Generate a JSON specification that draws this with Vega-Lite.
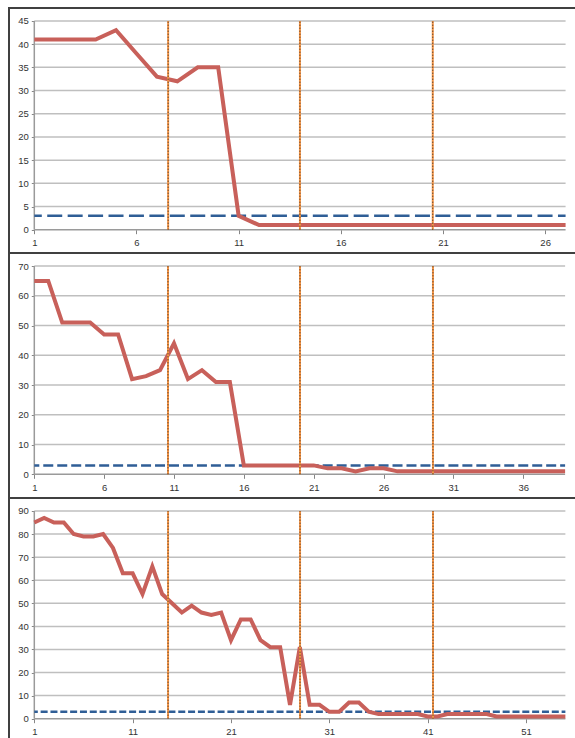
{
  "$schema": "https://vega.github.io/schema/vega-lite/v6.json",
  "padding": {"left": 8, "top": 7, "right": 0, "bottom": 0},
  "autosize": {"type": "pad"},
  "spacing": 0,
  "bounds": "flush",
  "background": "white",
  "config": {
    "view": {"stroke": "#404040", "strokeWidth": 2},
    "axis": {"labelFont": "Liberation Sans", "labelFontSize": 9.5, "labelColor": "#333333", "tickColor": "#868686", "tickWidth": 1, "domain": false, "grid": false}
  },
  "datasets": {
    "l1": [{"x":1,"y":41},{"x":2,"y":41},{"x":3,"y":41},{"x":4,"y":41},{"x":5,"y":43},{"x":6,"y":38},{"x":7,"y":33},{"x":8,"y":32},{"x":9,"y":35},{"x":10,"y":35},{"x":11,"y":3},{"x":12,"y":1},{"x":13,"y":1},{"x":14,"y":1},{"x":15,"y":1},{"x":16,"y":1},{"x":17,"y":1},{"x":18,"y":1},{"x":19,"y":1},{"x":20,"y":1},{"x":21,"y":1},{"x":22,"y":1},{"x":23,"y":1},{"x":24,"y":1},{"x":25,"y":1},{"x":26,"y":1},{"x":27,"y":1}],
    "l2": [{"x":1,"y":65},{"x":2,"y":65},{"x":3,"y":51},{"x":4,"y":51},{"x":5,"y":51},{"x":6,"y":47},{"x":7,"y":47},{"x":8,"y":32},{"x":9,"y":33},{"x":10,"y":35},{"x":11,"y":44},{"x":12,"y":32},{"x":13,"y":35},{"x":14,"y":31},{"x":15,"y":31},{"x":16,"y":3},{"x":17,"y":3},{"x":18,"y":3},{"x":19,"y":3},{"x":20,"y":3},{"x":21,"y":3},{"x":22,"y":2},{"x":23,"y":2},{"x":24,"y":1},{"x":25,"y":2},{"x":26,"y":2},{"x":27,"y":1},{"x":28,"y":1},{"x":29,"y":1},{"x":30,"y":1},{"x":31,"y":1},{"x":32,"y":1},{"x":33,"y":1},{"x":34,"y":1},{"x":35,"y":1},{"x":36,"y":1},{"x":37,"y":1},{"x":38,"y":1},{"x":39,"y":1}],
    "l3": [{"x":1,"y":85},{"x":2,"y":87},{"x":3,"y":85},{"x":4,"y":85},{"x":5,"y":80},{"x":6,"y":79},{"x":7,"y":79},{"x":8,"y":80},{"x":9,"y":74},{"x":10,"y":63},{"x":11,"y":63},{"x":12,"y":54},{"x":13,"y":66},{"x":14,"y":54},{"x":15,"y":50},{"x":16,"y":46},{"x":17,"y":49},{"x":18,"y":46},{"x":19,"y":45},{"x":20,"y":46},{"x":21,"y":34},{"x":22,"y":43},{"x":23,"y":43},{"x":24,"y":34},{"x":25,"y":31},{"x":26,"y":31},{"x":27,"y":6},{"x":28,"y":31},{"x":29,"y":6},{"x":30,"y":6},{"x":31,"y":3},{"x":32,"y":3},{"x":33,"y":7},{"x":34,"y":7},{"x":35,"y":3},{"x":36,"y":2},{"x":37,"y":2},{"x":38,"y":2},{"x":39,"y":2},{"x":40,"y":2},{"x":41,"y":1},{"x":42,"y":1},{"x":43,"y":2},{"x":44,"y":2},{"x":45,"y":2},{"x":46,"y":2},{"x":47,"y":2},{"x":48,"y":1},{"x":49,"y":1},{"x":50,"y":1},{"x":51,"y":1},{"x":52,"y":1},{"x":53,"y":1},{"x":54,"y":1},{"x":55,"y":1}],
    "g1": [{"y":5},{"y":10},{"y":15},{"y":20},{"y":25},{"y":30},{"y":35},{"y":40},{"y":45}],
    "g2": [{"y":10},{"y":20},{"y":30},{"y":40},{"y":50},{"y":60},{"y":70}],
    "g3": [{"y":10},{"y":20},{"y":30},{"y":40},{"y":50},{"y":60},{"y":70},{"y":80},{"y":90}],
    "v1": [{"x":7.55},{"x":14.0},{"x":20.5}],
    "v2": [{"x":10.57},{"x":20.02},{"x":29.54}],
    "v3": [{"x":14.6},{"x":28.02},{"x":41.54}],
    "one": [{}]
  },
  "vconcat": [
    {
      "width": 567, "height": 245,
      "resolve": {"axis": {"x": "independent", "y": "independent"}},
      "layer": [
        {"data": {"name": "g1"}, "mark": {"type": "rule", "color": "#BFBFBF", "strokeWidth": 1.5},
         "encoding": {"x": {"datum": 1, "type": "quantitative", "scale": {"domain": [-0.238, 27.51], "nice": false, "zero": false}, "axis": null}, "x2": {"datum": 27},
                      "y": {"field": "y", "type": "quantitative", "scale": {"domain": [-5.02, 47.8], "nice": false, "zero": false}, "axis": null}}},
        {"data": {"name": "one"}, "mark": {"type": "rule", "color": "#9A9A9A", "strokeWidth": 1.5},
         "encoding": {"x": {"datum": 1, "type": "quantitative", "scale": {"domain": [-0.238, 27.51], "nice": false, "zero": false}, "axis": null}, "x2": {"datum": 27},
                      "y": {"datum": 0, "type": "quantitative", "scale": {"domain": [-5.02, 47.8], "nice": false, "zero": false}, "axis": null}}},
        {"data": {"name": "one"}, "mark": {"type": "rule", "color": "#9A9A9A", "strokeWidth": 1.5},
         "encoding": {"x": {"datum": 1, "type": "quantitative", "scale": {"domain": [-0.238, 27.51], "nice": false, "zero": false}, "axis": null},
                      "y": {"datum": 0, "type": "quantitative", "scale": {"domain": [-5.02, 47.8], "nice": false, "zero": false}, "axis": null}, "y2": {"datum": 45}}},
        {"data": {"name": "one"}, "mark": {"type": "rule", "color": "#2F5E96", "strokeWidth": 2.5, "strokeDash": [15, 5.43], "strokeDashOffset": 7.5},
         "encoding": {"x": {"datum": 1, "type": "quantitative", "scale": {"domain": [-0.238, 27.51], "nice": false, "zero": false}, "axis": null}, "x2": {"datum": 27},
                      "y": {"datum": 3, "type": "quantitative", "scale": {"domain": [-5.02, 47.8], "nice": false, "zero": false}, "axis": null}}},
        {"data": {"name": "l1"}, "mark": {"type": "line", "color": "#C8605A", "strokeWidth": 4},
         "encoding": {"x": {"field": "x", "type": "quantitative", "scale": {"domain": [-0.238, 27.51], "nice": false, "zero": false},
                            "axis": {"orient": "bottom", "offset": -23.3, "values": [1, 6, 11, 16, 21, 26], "tickSize": 4, "labelPadding": 4, "title": null, "labelFlush": false}},
                      "y": {"field": "y", "type": "quantitative", "scale": {"domain": [-5.02, 47.8], "nice": false, "zero": false},
                            "axis": {"orient": "left", "offset": -25.3, "values": [0, 5, 10, 15, 20, 25, 30, 35, 40, 45], "tickSize": 3, "labelPadding": 3, "title": null, "labelFlush": false}}}},
        {"data": {"name": "v1"}, "mark": {"type": "rule", "color": "#F79646", "strokeWidth": 2},
         "encoding": {"x": {"field": "x", "type": "quantitative", "scale": {"domain": [-0.238, 27.51], "nice": false, "zero": false}, "axis": null},
                      "y": {"datum": 0, "type": "quantitative", "scale": {"domain": [-5.02, 47.8], "nice": false, "zero": false}, "axis": null}, "y2": {"datum": 45}}},
        {"data": {"name": "v1"}, "mark": {"type": "rule", "color": "#262626", "strokeWidth": 1, "strokeDash": [1, 2]},
         "encoding": {"x": {"field": "x", "type": "quantitative", "scale": {"domain": [-0.238, 27.51], "nice": false, "zero": false}, "axis": null},
                      "y": {"datum": 0, "type": "quantitative", "scale": {"domain": [-5.02, 47.8], "nice": false, "zero": false}, "axis": null}, "y2": {"datum": 45}}}
      ]
    },
    {
      "width": 567, "height": 245,
      "resolve": {"axis": {"x": "independent", "y": "independent"}},
      "layer": [
        {"data": {"name": "g2"}, "mark": {"type": "rule", "color": "#BFBFBF", "strokeWidth": 1.5},
         "encoding": {"x": {"datum": 1, "type": "quantitative", "scale": {"domain": [-0.811, 39.78], "nice": false, "zero": false}, "axis": null}, "x2": {"datum": 39},
                      "y": {"field": "y", "type": "quantitative", "scale": {"domain": [-7.96, 74.37], "nice": false, "zero": false}, "axis": null}}},
        {"data": {"name": "one"}, "mark": {"type": "rule", "color": "#9A9A9A", "strokeWidth": 1.5},
         "encoding": {"x": {"datum": 1, "type": "quantitative", "scale": {"domain": [-0.811, 39.78], "nice": false, "zero": false}, "axis": null}, "x2": {"datum": 39},
                      "y": {"datum": 0, "type": "quantitative", "scale": {"domain": [-7.96, 74.37], "nice": false, "zero": false}, "axis": null}}},
        {"data": {"name": "one"}, "mark": {"type": "rule", "color": "#9A9A9A", "strokeWidth": 1.5},
         "encoding": {"x": {"datum": 1, "type": "quantitative", "scale": {"domain": [-0.811, 39.78], "nice": false, "zero": false}, "axis": null},
                      "y": {"datum": 0, "type": "quantitative", "scale": {"domain": [-7.96, 74.37], "nice": false, "zero": false}, "axis": null}, "y2": {"datum": 70}}},
        {"data": {"name": "one"}, "mark": {"type": "rule", "color": "#2F5E96", "strokeWidth": 2.5, "strokeDash": [10, 3.97], "strokeDashOffset": 5},
         "encoding": {"x": {"datum": 1, "type": "quantitative", "scale": {"domain": [-0.811, 39.78], "nice": false, "zero": false}, "axis": null}, "x2": {"datum": 39},
                      "y": {"datum": 3, "type": "quantitative", "scale": {"domain": [-7.96, 74.37], "nice": false, "zero": false}, "axis": null}}},
        {"data": {"name": "l2"}, "mark": {"type": "line", "color": "#C8605A", "strokeWidth": 4},
         "encoding": {"x": {"field": "x", "type": "quantitative", "scale": {"domain": [-0.811, 39.78], "nice": false, "zero": false},
                            "axis": {"orient": "bottom", "offset": -23.7, "values": [1, 6, 11, 16, 21, 26, 31, 36], "tickSize": 4, "labelPadding": 4, "title": null, "labelFlush": false}},
                      "y": {"field": "y", "type": "quantitative", "scale": {"domain": [-7.96, 74.37], "nice": false, "zero": false},
                            "axis": {"orient": "left", "offset": -25.3, "values": [0, 10, 20, 30, 40, 50, 60, 70], "tickSize": 3, "labelPadding": 3, "title": null, "labelFlush": false}}}},
        {"data": {"name": "v2"}, "mark": {"type": "rule", "color": "#F79646", "strokeWidth": 2},
         "encoding": {"x": {"field": "x", "type": "quantitative", "scale": {"domain": [-0.811, 39.78], "nice": false, "zero": false}, "axis": null},
                      "y": {"datum": 0, "type": "quantitative", "scale": {"domain": [-7.96, 74.37], "nice": false, "zero": false}, "axis": null}, "y2": {"datum": 70}}},
        {"data": {"name": "v2"}, "mark": {"type": "rule", "color": "#262626", "strokeWidth": 1, "strokeDash": [1, 2]},
         "encoding": {"x": {"field": "x", "type": "quantitative", "scale": {"domain": [-0.811, 39.78], "nice": false, "zero": false}, "axis": null},
                      "y": {"datum": 0, "type": "quantitative", "scale": {"domain": [-7.96, 74.37], "nice": false, "zero": false}, "axis": null}, "y2": {"datum": 70}}}
      ]
    },
    {
      "width": 567, "height": 241,
      "resolve": {"axis": {"x": "independent", "y": "independent"}},
      "layer": [
        {"data": {"name": "g3"}, "mark": {"type": "rule", "color": "#BFBFBF", "strokeWidth": 1.5},
         "encoding": {"x": {"datum": 1, "type": "quantitative", "scale": {"domain": [-1.573, 56.08], "nice": false, "zero": false}, "axis": null}, "x2": {"datum": 55},
                      "y": {"field": "y", "type": "quantitative", "scale": {"domain": [-8.8, 95.63], "nice": false, "zero": false}, "axis": null}}},
        {"data": {"name": "one"}, "mark": {"type": "rule", "color": "#9A9A9A", "strokeWidth": 1.5},
         "encoding": {"x": {"datum": 1, "type": "quantitative", "scale": {"domain": [-1.573, 56.08], "nice": false, "zero": false}, "axis": null}, "x2": {"datum": 55},
                      "y": {"datum": 0, "type": "quantitative", "scale": {"domain": [-8.8, 95.63], "nice": false, "zero": false}, "axis": null}}},
        {"data": {"name": "one"}, "mark": {"type": "rule", "color": "#9A9A9A", "strokeWidth": 1.5},
         "encoding": {"x": {"datum": 1, "type": "quantitative", "scale": {"domain": [-1.573, 56.08], "nice": false, "zero": false}, "axis": null},
                      "y": {"datum": 0, "type": "quantitative", "scale": {"domain": [-8.8, 95.63], "nice": false, "zero": false}, "axis": null}, "y2": {"datum": 90}}},
        {"data": {"name": "one"}, "mark": {"type": "rule", "color": "#2F5E96", "strokeWidth": 2.5, "strokeDash": [7, 2.83], "strokeDashOffset": 3.5},
         "encoding": {"x": {"datum": 1, "type": "quantitative", "scale": {"domain": [-1.573, 56.08], "nice": false, "zero": false}, "axis": null}, "x2": {"datum": 55},
                      "y": {"datum": 3, "type": "quantitative", "scale": {"domain": [-8.8, 95.63], "nice": false, "zero": false}, "axis": null}}},
        {"data": {"name": "l3"}, "mark": {"type": "line", "color": "#C8605A", "strokeWidth": 4},
         "encoding": {"x": {"field": "x", "type": "quantitative", "scale": {"domain": [-1.573, 56.08], "nice": false, "zero": false},
                            "axis": {"orient": "bottom", "offset": -20.3, "values": [1, 11, 21, 31, 41, 51], "tickSize": 4, "labelPadding": 4, "title": null, "labelFlush": false}},
                      "y": {"field": "y", "type": "quantitative", "scale": {"domain": [-8.8, 95.63], "nice": false, "zero": false},
                            "axis": {"orient": "left", "offset": -25.3, "values": [0, 10, 20, 30, 40, 50, 60, 70, 80, 90], "tickSize": 3, "labelPadding": 3, "title": null, "labelFlush": false}}}},
        {"data": {"name": "v3"}, "mark": {"type": "rule", "color": "#F79646", "strokeWidth": 2},
         "encoding": {"x": {"field": "x", "type": "quantitative", "scale": {"domain": [-1.573, 56.08], "nice": false, "zero": false}, "axis": null},
                      "y": {"datum": 0, "type": "quantitative", "scale": {"domain": [-8.8, 95.63], "nice": false, "zero": false}, "axis": null}, "y2": {"datum": 90}}},
        {"data": {"name": "v3"}, "mark": {"type": "rule", "color": "#262626", "strokeWidth": 1, "strokeDash": [1, 2]},
         "encoding": {"x": {"field": "x", "type": "quantitative", "scale": {"domain": [-1.573, 56.08], "nice": false, "zero": false}, "axis": null},
                      "y": {"datum": 0, "type": "quantitative", "scale": {"domain": [-8.8, 95.63], "nice": false, "zero": false}, "axis": null}, "y2": {"datum": 90}}}
      ]
    }
  ]
}
